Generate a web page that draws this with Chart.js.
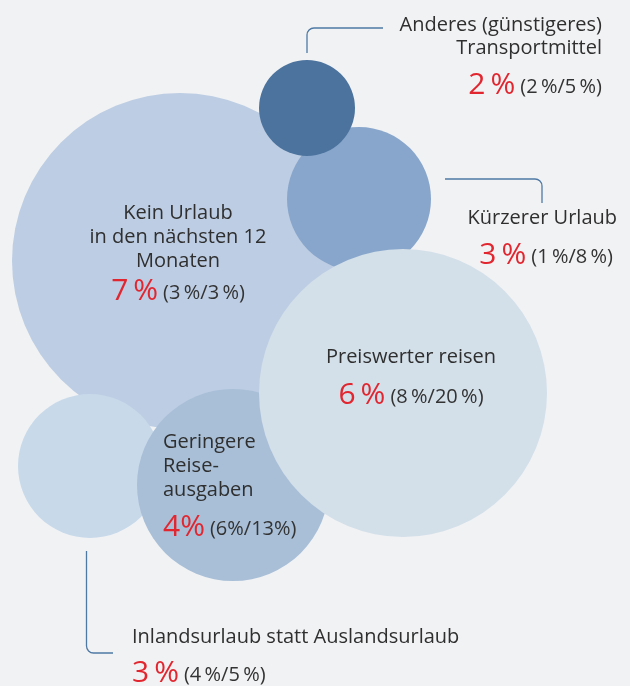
<!DOCTYPE html>
<html>
<head>
<meta charset="utf-8">
<script src="https://cdn.jsdelivr.net/npm/chart.js@4.4.0/dist/chart.umd.min.js"></script>
<style>
html, body { margin: 0; padding: 0; background: #f1f2f4; }
#wrap { width: 630px; height: 686px; }
</style>
</head>
<body>
<div id="wrap"><canvas id="chart" width="630" height="686"></canvas></div>
<script>
// data, drawn bottom to top
const categories = [
    'Kein Urlaub\nin den nächsten 12\nMonaten',
    'Kürzerer Urlaub',
    'Anderes (günstigeres)\nTransportmittel',
    'Inlandsurlaub statt Auslandsurlaub',
    'Geringere\nReise-\nausgaben',
    'Preiswerter reisen'
];
const shares = [7, 3, 2, 3, 4, 6];
const compareA = [3, 1, 2, 4, 6, 8];
const compareB = [3, 8, 5, 5, 13, 20];
const bubbleX = [180, 359, 307, 90, 233, 403];
const bubbleY = [261, 199, 108, 466, 485, 393];

const bubbleColors = ['#bdcde3', '#88a6cb', '#4b739d', '#c8d9ea', '#a8bfd7', '#d3dfe9'];
const pxPerPercent = 24;
const textFont = '"Open Sans", sans-serif';

// where each label goes (chart units)
const labelLayout = [
    { x: 178, align: 'center', lineY: [213, 237, 261], shareY: 291 },
    { x: 617, align: 'right', lineY: [218], shareY: 255, shareX: 613 },
    { x: 602, align: 'right', lineY: [25, 48], shareY: 85 },
    { x: 132, align: 'left', lineY: [637], shareY: 673 },
    { x: 163, align: 'left', lineY: [442, 466, 490], shareY: 527, tight: true },
    { x: 411, align: 'center', lineY: [357], shareY: 395 }
];
const leaders = [
    null,
    [[445, 179], [542, 179], [542, 203]],
    [[383, 28], [307, 28], [307, 53]],
    [[86.5, 551], [86.5, 653], [113, 653]],
    null,
    null
];

const labelPlugin = {
    id: 'bubbleLabels',
    afterDatasetsDraw(chart) {
        const ctx = chart.ctx;
        const xs = chart.scales.x;
        const ys = chart.scales.y;
        ctx.save();

        // leader lines
        ctx.strokeStyle = '#4f79a5';
        ctx.lineWidth = 1.3;
        leaders.forEach(pts => {
            if (!pts) return;
            const p = pts.map(pt => [xs.getPixelForValue(pt[0]), ys.getPixelForValue(pt[1])]);
            ctx.beginPath();
            ctx.moveTo(p[0][0], p[0][1]);
            ctx.arcTo(p[1][0], p[1][1], p[2][0], p[2][1], 7);
            ctx.lineTo(p[2][0], p[2][1]);
            ctx.stroke();
        });

        ctx.textBaseline = 'middle';
        categories.forEach((cat, i) => {
            const lay = labelLayout[i];
            const x = xs.getPixelForValue(lay.x);
            ctx.fillStyle = '#2f2f2f';
            ctx.font = '20px ' + textFont;
            ctx.textAlign = lay.align;
            cat.split('\n').forEach((line, j) => {
                ctx.fillText(line, x, ys.getPixelForValue(lay.lineY[j]));
            });

            const sp = lay.tight ? '' : '\u2009';
            const big = shares[i] + sp + '%';
            const small = '(' + compareA[i] + sp + '%/' + compareB[i] + sp + '%)';
            const bigFont = '30px ' + textFont;
            const smallFont = '20px ' + textFont;
            ctx.font = bigFont;
            const wBig = ctx.measureText(big).width;
            ctx.font = smallFont;
            const wSmall = ctx.measureText(small).width;
            const gap = 5;
            const total = wBig + gap + wSmall;
            const anchor = xs.getPixelForValue(lay.shareX !== undefined ? lay.shareX : lay.x);
            let left = anchor;
            if (lay.align === 'center') left = anchor - total / 2;
            if (lay.align === 'right') left = anchor - total;
            const y = ys.getPixelForValue(lay.shareY);
            ctx.textAlign = 'left';
            ctx.font = bigFont;
            ctx.fillStyle = '#e2262f';
            ctx.fillText(big, left, y);
            ctx.font = smallFont;
            ctx.fillStyle = '#333333';
            ctx.fillText(small, left + wBig + gap, y + 2);
        });
        ctx.restore();
    }
};

new Chart(document.getElementById('chart'), {
    type: 'bubble',
    data: {
        datasets: [{
            data: categories.map((c, i) => ({ x: bubbleX[i], y: bubbleY[i], r: shares[i] * pxPerPercent })),
            backgroundColor: bubbleColors,
            hoverBackgroundColor: bubbleColors,
            borderWidth: 0,
            hoverBorderWidth: 0,
            clip: false
        }]
    },
    options: {
        responsive: false,
        animation: false,
        events: [],
        layout: { padding: 0, autoPadding: false },
        plugins: {
            legend: { display: false },
            tooltip: { enabled: false }
        },
        scales: {
            x: { type: 'linear', min: 0, max: 630, display: false },
            y: { type: 'linear', min: 0, max: 686, reverse: true, display: false }
        }
    },
    plugins: [labelPlugin]
});
</script>
</body>
</html>
